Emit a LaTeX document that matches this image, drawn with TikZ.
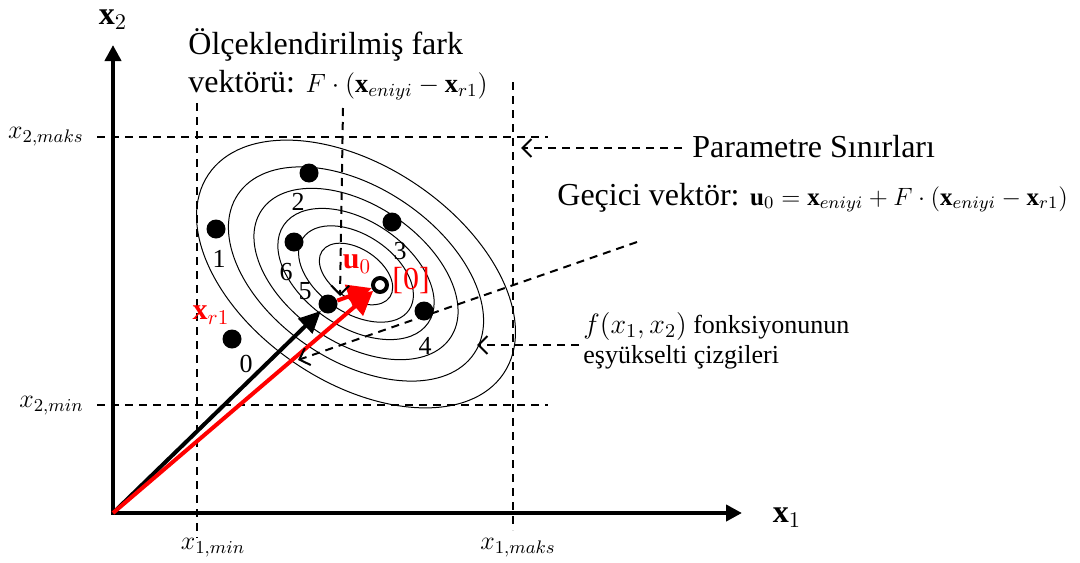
\RequirePackage{fix-cm}
\documentclass[tikz,border=0pt]{standalone}
\usepackage{fontspec}
\setmainfont{Liberation Serif}
\usetikzlibrary{arrows.meta}
\newcommand{\mth}[1]{{\fontsize{12.5}{19}\selectfont$#1$}}
\newcommand{\bmth}[1]{{\fontsize{13.2}{19}\selectfont$#1$}}
\newcommand{\smth}[1]{{\fontsize{14}{15}\selectfont$#1$}}
\begin{document}
\begin{tikzpicture}[x=0.5pt,y=-0.5pt,
  bnd/.style={line width=1pt, dash pattern=on 4pt off 3pt},
  axis/.style={line width=2pt, line join=miter},
  ring/.style={line width=0.5pt},
  dot/.style={circle, fill=black, inner sep=0pt, minimum size=9.5pt},
  lead/.style={line width=1pt, dash pattern=on 4pt off 3pt, -{Straight Barb[length=4.5pt,width=9pt]}},
  txt/.style={font=\fontsize{16}{19}\selectfont, inner sep=0pt},
  small/.style={font=\fontsize{13}{15}\selectfont, inner sep=0pt},
  lbl/.style={font=\fontsize{13}{15}\selectfont, inner sep=0pt},
  blk/.style={line width=2pt, -{Triangle[length=11pt,width=10pt]}},
  redarrow/.style={red, line width=2pt, -{Triangle[length=12pt,width=12pt]}},
  ]
\useasboundingbox (0,0) rectangle (1080,562);

% level curves
\coordinate (E) at (356,274);
\foreach \s in {1,0.8,0.64,0.49,0.36,0.23}
  \draw[ring, rotate around={-34:(E)}] (E) ellipse[x radius=\s*89pt, y radius=\s*54pt];

% parameter bounds
\coordinate (b1t) at (197,103); \coordinate (b1b) at (197,538);
\coordinate (b2t) at (513,82);  \coordinate (b2b) at (513,530);
\coordinate (b3l) at (97,137);  \coordinate (b3r) at (548,137);
\coordinate (b4l) at (97,405);  \coordinate (b4r) at (548,405);
\draw[bnd] (b1t) -- (b1b);
\draw[bnd] (b2t) -- (b2b);
\draw[bnd] (b3l) -- (b3r);
\draw[bnd] (b4l) -- (b4r);

% axes
\coordinate (O) at (113,513);
\coordinate (Yt) at (113,45);
\coordinate (Xt) at (742,513);
\draw[axis, {Triangle[length=8pt,width=8pt]}-{Triangle[length=8pt,width=8pt]}] (Yt) -- (O) -- (Xt);

% points
\node[dot] (d2) at (309,173) {};
\node[dot] (d1) at (216,229) {};
\node[dot] (d6) at (294,242) {};
\node[dot] (d3) at (392,222) {};
\node[dot] (d5) at (328,304) {};
\node[dot] (d4) at (424,311) {};
\node[dot] (d0) at (232,339) {};
\node[circle, draw, line width=2pt, minimum size=7pt, inner sep=0pt] (u) at (380,285) {};

\node[small] (l2) at (298,202) {2};
\node[small] (l1) at (219,259) {1};
\node[small] (l6) at (286,272) {6};
\node[small] (l3) at (400,251) {3};
\node[small] (l5) at (305,291) {5};
\node[small] (l4) at (425,346) {4};
\node[small] (l0) at (246,364) {0};

% vectors
\draw[blk] (O) -- (d5);
\draw[redarrow] (O) -- (u);
\draw[redarrow] (d5) -- (u);

\node[red, font=\fontsize{15}{17}\selectfont] (ul) at (357,264) {$\mathbf{u}_0$};
\node[red, font=\fontsize{16}{18}\selectfont] (zl) at (411,281) {[0]};
\node[red, font=\fontsize{15}{17}\selectfont] (xl) at (211,315) {$\mathbf{x}_{r1}$};

% texts
\node[txt, align=left, anchor=north west] (scl) at (188,28) {Ölçeklendirilmiş fark\\vektörü: \bmth{F\cdot(\mathbf{x}_{eniyi}-\mathbf{x}_{r1})}};
\node[txt, anchor=base west] (par) at (692,157) {Parametre Sınırları};
\node[txt, anchor=base west] (gec) at (557,205) {Geçici vektör: \mth{\mathbf{u}_0=\mathbf{x}_{eniyi}+F\cdot(\mathbf{x}_{eniyi}-\mathbf{x}_{r1})}};
\node[small, align=left, anchor=north west] (fx) at (583,312) {\smth{f(x_1,x_2)} fonksiyonunun\\eşyükselti çizgileri};

% axis labels
\node[font=\fontsize{16}{19}\selectfont] (x2l) at (113,20) {$\mathbf{x}_2$};
\node[font=\fontsize{16}{19}\selectfont] (x1l) at (787,518) {$\mathbf{x}_1$};
\node[lbl, anchor=east] (x2M) at (84,137) {$x_{2,maks}$};
\node[lbl, anchor=east] (x2m) at (84,406) {$x_{2,min}$};
\node[lbl] (x1m) at (213,548) {$x_{1,min}$};
\node[lbl] (x1M) at (518,548) {$x_{1,maks}$};

% leaders
\coordinate (fT) at (343,108); \coordinate (fH) at (340,296);
\draw[lead] (fT) -- (fH);
\coordinate (pT) at (521,148);
\draw[lead] ([xshift=-5pt]par.west |- pT) -- (pT);
\coordinate (gS) at (637,242); \coordinate (gE) at (298,360);
\draw[lead] (gS) -- (gE);
\coordinate (fxH) at (477,345);
\draw[lead] ([xshift=-2pt]fx.west |- fxH) -- (fxH);
\end{tikzpicture}
\end{document}
